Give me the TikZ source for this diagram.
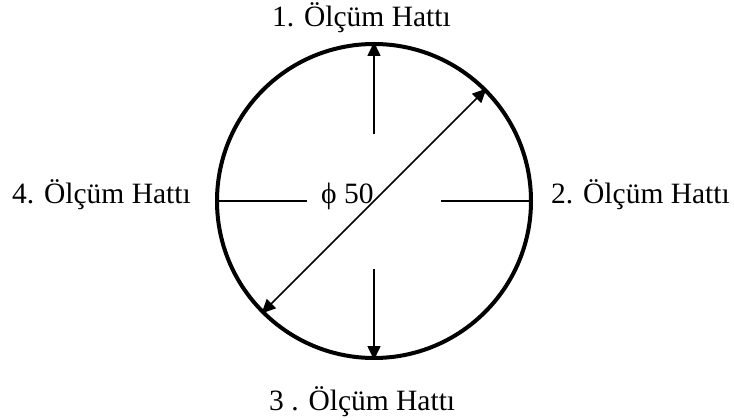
\documentclass[tikz,border=0pt]{standalone}
\usepackage{fontspec}
\setmainfont{Liberation Serif}
\usetikzlibrary{arrows.meta}
\tikzset{
  lbl/.style={inner sep=0pt, anchor=base west, font=\fontsize{29.5}{35}\selectfont},
  ring/.style={draw, line width=4pt, circle, minimum size=314pt, inner sep=0pt},
  meas/.style={line width=1.6pt},
  arr/.style={meas, -{Triangle[length=14pt,width=13pt]}},
  darr/.style={meas, {Triangle[length=14pt,width=13pt]}-{Triangle[length=14pt,width=13pt]}}
}
\begin{document}
\begin{tikzpicture}[x=1pt,y=-1pt]
\useasboundingbox (0,0) rectangle (734,420);
\node[ring] (c) at (374,201) {};
\node[lbl] (l1) at (272,27) {1. Ölçüm Hattı};
\node[lbl] (l2) at (551,203) {2. Ölçüm Hattı};
\node[lbl] (l3) at (269,410) {3 . Ölçüm Hattı};
\node[lbl] (l4) at (12,203) {4. Ölçüm Hattı};
\node[lbl] (d) at (321,203) {ϕ 50};
\coordinate (t0) at (374,134);
\coordinate (b0) at (374,269);
\coordinate (lf) at (307,201);
\coordinate (rt) at (441,201);
\draw[arr] (t0) -- (c.north);
\draw[arr] (b0) -- (c.south);
\draw[meas] (c.west) -- (lf);
\draw[meas] (rt) -- (c.east);
\draw[darr] (c.225) -- (c.45);
\end{tikzpicture}
\end{document}
